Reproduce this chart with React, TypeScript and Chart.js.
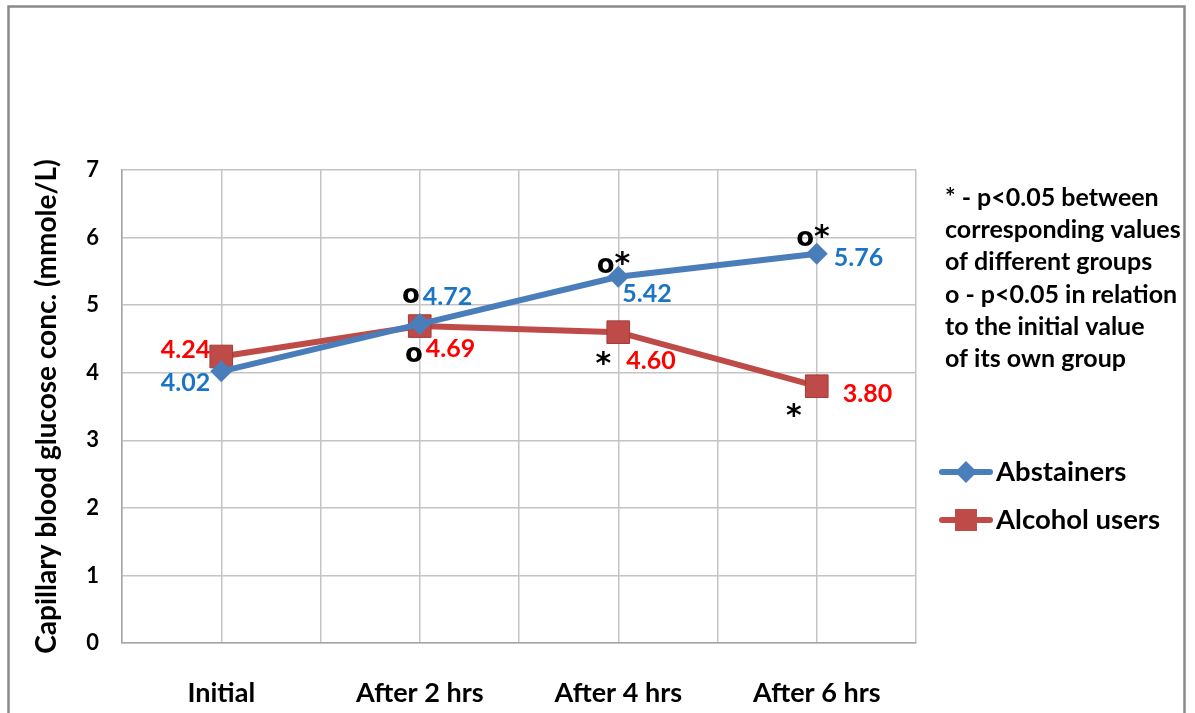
import { useEffect, useRef } from "react";
import { Chart, registerables } from "chart.js";

Chart.register(...registerables);

const categories = ["Initial", "After 2 hrs", "After 4 hrs", "After 6 hrs"];
const abstainers = [4.02, 4.72, 5.42, 5.76];
const alcoholUsers = [4.24, 4.69, 4.6, 3.8];
const abstainerMarks = ["", "o", "o*", "o*"];
const alcoholMarks = ["", "o", "*", "*"];
const yTickValues = [0, 1, 2, 3, 4, 5, 6, 7];
const seriesNames = ["Abstainers", "Alcohol users"];
const yTitle = "Capillary blood glucose conc. (mmole/L)";
const noteLines = [
  "* - p<0.05 between",
  "corresponding values",
  "of different groups",
  "o - p<0.05 in relation",
  "to the initial value",
  "of its own group",
];

const FONT = "Lato, 'Open Sans', sans-serif";
const MARK_FONT = "'DejaVu Sans', sans-serif";
const BLUE = "#4A7EBB";
const RED = "#BE4B48";
const BLUE_TEXT = "#1B75C4";
const RED_TEXT = "#FF0000";

// label placement (pixel offsets from each point): [dx, dy, align]
const valueLayout: [number, number, CanvasTextAlign][][] = [
  [[-11, 20, "right"], [3, -19, "left"], [4, 25, "left"], [17, 12, "left"]],
  [[-11, 2, "right"], [6, 31, "left"], [8, 37, "left"], [26, 16, "left"]],
];
// mark anchor: right edge dx, baseline dy
const markLayout: [number, number][][] = [
  [[0, 0], [0, -21], [12, -4], [13, -8]],
  [[0, 0], [3, 36], [-7, 41], [-15, 39]],
];

const overlayPlugin = {
  id: "overlay",
  beforeDraw(chart: any) {
    const ctx = chart.ctx;
    ctx.save();
    ctx.fillStyle = "#ffffff";
    ctx.fillRect(0, 0, chart.width, chart.height);
    ctx.strokeStyle = "#8a8a8a";
    ctx.lineWidth = 2.5;
    ctx.strokeRect(8.5, 6.5, 1176, 730);
    ctx.restore();
  },
  afterDatasetsDraw(chart: any) {
    const ctx = chart.ctx;
    const xs = chart.scales.x;
    const ys = chart.scales.y;
    const seriesVals = [abstainers, alcoholUsers];
    const seriesMarks = [abstainerMarks, alcoholMarks];
    const colors = [BLUE_TEXT, RED_TEXT];
    const markFont = (c: string) => (c === "*" ? `bold 30px ${MARK_FONT}` : `bold 26px ${MARK_FONT}`);
    ctx.save();
    ctx.textBaseline = "alphabetic";
    seriesVals.forEach((vals, s) => {
      vals.forEach((v, i) => {
        const px = xs.getPixelForValue(i);
        const py = ys.getPixelForValue(v);
        const [dx, dy, al] = valueLayout[s][i];
        ctx.font = `bold 25px ${FONT}`;
        ctx.fillStyle = colors[s];
        ctx.textAlign = al;
        ctx.fillText(v.toFixed(2), px + dx, py + dy);
        const m = seriesMarks[s][i];
        if (m) {
          const [mx, my] = markLayout[s][i];
          const chars = m.split("");
          ctx.fillStyle = "#000000";
          ctx.textAlign = "left";
          let total = 0;
          const widths = chars.map((c) => {
            ctx.font = markFont(c);
            const w = ctx.measureText(c).width;
            total += w;
            return w;
          });
          let cx = px + mx - total;
          chars.forEach((c, k) => {
            ctx.font = markFont(c);
            ctx.fillText(c, cx, py + my);
            cx += widths[k];
          });
        }
      });
    });

    // notes
    ctx.font = `bold 25px ${FONT}`;
    ctx.fillStyle = "#000000";
    ctx.textAlign = "left";
    ctx.textBaseline = "middle";
    noteLines.forEach((t, k) => ctx.fillText(t, 945, 198 + k * 32.2));

    // legend
    const legendY = [472, 520];
    const legendColors = [BLUE, RED];
    legendY.forEach((ly, k) => {
      ctx.strokeStyle = legendColors[k];
      ctx.lineWidth = 6;
      ctx.lineCap = "round";
      ctx.beginPath();
      ctx.moveTo(942, ly);
      ctx.lineTo(990, ly);
      ctx.stroke();
      ctx.fillStyle = legendColors[k];
      ctx.beginPath();
      if (k === 0) {
        ctx.moveTo(966, ly - 11);
        ctx.lineTo(977, ly);
        ctx.lineTo(966, ly + 11);
        ctx.lineTo(955, ly);
        ctx.closePath();
      } else {
        ctx.rect(955, ly - 11, 22, 22);
      }
      ctx.fill();
      ctx.fillStyle = "#000000";
      ctx.font = `bold 27.5px ${FONT}`;
      ctx.textAlign = "left";
      ctx.fillText(seriesNames[k], 996, ly);
    });
    ctx.restore();
  },
};

export default function App() {
  const ref = useRef<HTMLCanvasElement>(null);
  useEffect(() => {
    if (!ref.current) return;
    const chart = new Chart(ref.current, {
      type: "line",
      data: {
        datasets: [
          {
            label: seriesNames[0],
            data: abstainers.map((v, i) => ({ x: i, y: v })),
            borderColor: BLUE,
            backgroundColor: BLUE,
            borderWidth: 6,
            pointStyle: "rectRot",
            pointRadius: 11,
            pointBorderWidth: 0,
            pointBackgroundColor: BLUE,
          },
          {
            label: seriesNames[1],
            data: alcoholUsers.map((v, i) => ({ x: i, y: v })),
            borderColor: RED,
            backgroundColor: RED,
            borderWidth: 6,
            pointStyle: "rect",
            pointRadius: 16,
            pointBorderWidth: 1,
            pointBorderColor: "#A33B38",
            pointBackgroundColor: RED,
          },
        ],
      },
      options: {
        animation: false,
        responsive: true,
        maintainAspectRatio: false,
        layout: { padding: { top: 170, right: 279, left: 0, bottom: 0 } },
        plugins: {
          legend: { display: false },
          tooltip: { enabled: false },
        },
        scales: {
          x: {
            type: "linear",
            min: -0.5,
            max: 3.5,
            afterBuildTicks: (scale: any) => {
              const t: any[] = [];
              for (let k = 0; k <= 8; k++) t.push({ value: -0.5 + k * 0.5 });
              scale.ticks = t;
            },
            afterFit: (scale: any) => {
              scale.height = 70;
            },
            grid: { color: "#c4c4c4", lineWidth: 1.5, drawTicks: false },
            border: { color: "#a6a6a6", width: 1.5 },
            ticks: {
              autoSkip: false,
              maxRotation: 0,
              padding: 34,
              color: "#000000",
              font: { family: FONT, size: 27, weight: "bold" },
              callback: (v: any) => {
                const n = Number(v);
                return Number.isInteger(n) ? categories[n] : "";
              },
            },
          },
          y: {
            min: 0,
            max: 7,
            afterBuildTicks: (scale: any) => {
              scale.ticks = yTickValues.map((v) => ({ value: v }));
            },
            afterFit: (scale: any) => {
              scale.width = 122;
            },
            grid: { color: "#c4c4c4", lineWidth: 1.5, drawTicks: false },
            border: { color: "#a6a6a6", width: 1.5 },
            ticks: {
              padding: 23,
              color: "#000000",
              font: { family: FONT, size: 22, weight: "bold" },
            },
            title: {
              display: true,
              text: yTitle,
              color: "#000000",
              padding: { top: 30, bottom: 0 },
              font: { family: FONT, size: 28, weight: "bold" },
            },
          },
        },
      },
      plugins: [overlayPlugin],
    });
    return () => chart.destroy();
  }, []);
  return (
    <div style={{ position: "fixed", left: 0, top: 0, width: 1195, height: 713, background: "#fff" }}>
      <canvas ref={ref} />
    </div>
  );
}
